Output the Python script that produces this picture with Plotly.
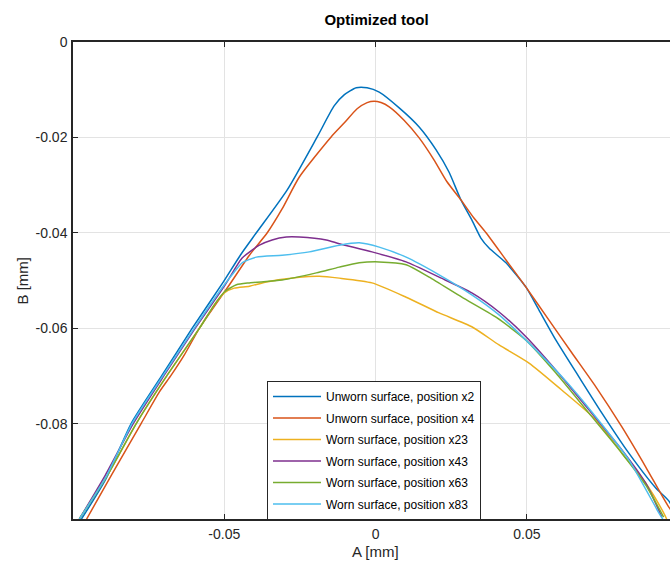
import plotly.graph_objects as go

# ---- data (A [mm], B [mm]) ----
series_names = [
    "Unworn surface, position x2",
    "Unworn surface, position x4",
    "Worn surface, position x23",
    "Worn surface, position x43",
    "Worn surface, position x63",
    "Worn surface, position x83",
]
colors = ["#0072BD", "#D95319", "#EDB120", "#7E2F8E", "#77AC30", "#4DBEEE"]

x2_a = [-0.0972, -0.0893, -0.0807, -0.0705, -0.0606, -0.0503, -0.0447, -0.0394, -0.0292, -0.0193,
        -0.0137, -0.0104, -0.0064, -0.0028, 0.0012, 0.0078, 0.0144, 0.0200, 0.0243, 0.0282,
        0.0318, 0.0348, 0.0375, 0.0431, 0.0497, 0.0540, 0.0596, 0.0672, 0.0748, 0.0837,
        0.0926, 0.0969, 0.1000]
x2_b = [-0.1000, -0.0918, -0.0799, -0.0698, -0.0600, -0.0503, -0.0447, -0.0400, -0.0310, -0.0199,
        -0.0134, -0.0111, -0.0096, -0.0096, -0.0105, -0.0138, -0.0178, -0.0226, -0.0273, -0.0331,
        -0.0373, -0.0411, -0.0432, -0.0463, -0.0514, -0.0562, -0.0625, -0.0702, -0.0778, -0.0862,
        -0.0935, -0.0962, -0.1000]

x4_a = [-0.0955, -0.0873, -0.0774, -0.0715, -0.0675, -0.0632, -0.0582, -0.0483, -0.0417, -0.0358,
        -0.0309, -0.0252, -0.0147, -0.0104, -0.0061, -0.0028, -0.0005, 0.0018, 0.0045,
        0.0094, 0.0144, 0.0193, 0.0236, 0.0282, 0.0325, 0.0365, 0.0431, 0.0497, 0.0573,
        0.0649, 0.0728, 0.0814, 0.0893, 0.0969, 0.1000]
x4_b = [-0.1000, -0.0908, -0.0799, -0.0734, -0.0698, -0.0656, -0.0600, -0.0509, -0.0447, -0.0400,
        -0.0350, -0.0283, -0.0199, -0.0170, -0.0140, -0.0127, -0.0124, -0.0127, -0.0136,
        -0.0164, -0.0201, -0.0247, -0.0293, -0.0331, -0.0369, -0.0400, -0.0457, -0.0514, -0.0583,
        -0.0652, -0.0723, -0.0807, -0.0891, -0.0975, -0.1000]

x23_a = [-0.0979, -0.0886, -0.0790, -0.0688, -0.0582, -0.0533, -0.0500, -0.0467, -0.0417, -0.0361,
         -0.0252, -0.0186, -0.0120, -0.0012, 0.0101, 0.0210, 0.0318, 0.0408, 0.0507, 0.0616,
         0.0728, 0.0814, 0.0893, 0.0952, 0.0962]
x23_b = [-0.1000, -0.0908, -0.0799, -0.0698, -0.0600, -0.0551, -0.0526, -0.0516, -0.0512, -0.0503,
         -0.0493, -0.0491, -0.0495, -0.0505, -0.0535, -0.0568, -0.0597, -0.0635, -0.0673, -0.0730,
         -0.0792, -0.0862, -0.0925, -0.0987, -0.1000]

x43_a = [-0.0979, -0.0893, -0.0800, -0.0698, -0.0596, -0.0497, -0.0441, -0.0384, -0.0342, -0.0295,
         -0.0252, -0.0163, -0.0120, -0.0012, 0.0101, 0.0210, 0.0318, 0.0408, 0.0497, 0.0596,
         0.0705, 0.0814, 0.0893, 0.0946]
x43_b = [-0.1000, -0.0908, -0.0799, -0.0698, -0.0600, -0.0509, -0.0453, -0.0426, -0.0415, -0.0409,
         -0.0409, -0.0415, -0.0423, -0.0440, -0.0461, -0.0493, -0.0526, -0.0566, -0.0618, -0.0688,
         -0.0771, -0.0855, -0.0925, -0.0996]

x63_a = [-0.0979, -0.0886, -0.0790, -0.0688, -0.0582, -0.0533, -0.0500, -0.0460, -0.0417, -0.0309,
         -0.0196, -0.0120, -0.0054, 0.0012, 0.0101, 0.0177, 0.0285, 0.0398, 0.0497, 0.0596,
         0.0705, 0.0814, 0.0893, 0.0952]
x63_b = [-0.1000, -0.0908, -0.0799, -0.0698, -0.0600, -0.0551, -0.0524, -0.0509, -0.0505, -0.0499,
         -0.0484, -0.0472, -0.0463, -0.0461, -0.0467, -0.0493, -0.0535, -0.0577, -0.0625, -0.0694,
         -0.0778, -0.0862, -0.0929, -0.0996]

x83_a = [-0.0979, -0.0893, -0.0804, -0.0701, -0.0599, -0.0500, -0.0467, -0.0441, -0.0394, -0.0309,
         -0.0219, -0.0120, -0.0054, 0.0012, 0.0101, 0.0210, 0.0318, 0.0408, 0.0497, 0.0616,
         0.0728, 0.0837, 0.0936, 0.0949]
x83_b = [-0.1000, -0.0914, -0.0799, -0.0698, -0.0600, -0.0509, -0.0482, -0.0463, -0.0451, -0.0447,
         -0.0440, -0.0426, -0.0421, -0.0430, -0.0451, -0.0488, -0.0530, -0.0572, -0.0625, -0.0702,
         -0.0786, -0.0876, -0.0987, -0.1000]

x_tickvals = [-0.05, 0, 0.05]
x_ticktext = ["-0.05", "0", "0.05"]
y_tickvals = [-0.08, -0.06, -0.04, -0.02, 0]
y_ticktext = ["-0.08", "-0.06", "-0.04", "-0.02", "0"]

title_text = "Optimized tool"
x_label = "A [mm]"
y_label = "B [mm]"

xs = [x2_a, x4_a, x23_a, x43_a, x63_a, x83_a]
ys = [x2_b, x4_b, x23_b, x43_b, x63_b, x83_b]

FONT = "Liberation Sans, Arial, sans-serif"
AX = "#262626"

W, H = 670, 561
ML, MT, MB = 73, 42, 42
PW, PH = W - ML, H - MT - MB

fig = go.Figure()
for i, (name, xa, yb, c) in enumerate(zip(series_names, xs, ys, colors)):
    fig.add_trace(go.Scatter(
        x=xa, y=yb, mode="lines", name=name, legendgroup=f"g{i}",
        line=dict(color=c, width=1.5, shape="spline", smoothing=0.6),
    ))

fig.update_layout(
    width=W, height=H,
    margin=dict(l=ML, r=0, t=MT, b=MB, pad=0),
    paper_bgcolor="white", plot_bgcolor="white",
    hovermode=False,
    font=dict(family=FONT, size=14, color=AX),
    title=dict(text=f"<b>{title_text}</b>", x=303.5 / PW, xref="paper", xanchor="center",
               y=1 - 20 / H, yref="container", yanchor="middle",
               font=dict(family=FONT, size=15, color="#000")),
    showlegend=True,
    legend=dict(x=194 / PW, y=138 / PH, xref="paper", yref="paper", xanchor="left", yanchor="top",
                bgcolor="white", bordercolor=AX, borderwidth=1,
                font=dict(family=FONT, size=12, color="#000"),
                tracegroupgap=2.5, itemwidth=48),
)
fig.update_xaxes(
    range=[-0.1, 0.0973], tickvals=x_tickvals, ticktext=x_ticktext,
    showgrid=True, gridcolor="#e3e3e3", gridwidth=1, zeroline=False,
    showline=True, linecolor=AX, linewidth=1.5, mirror="ticks",
    ticks="inside", ticklen=5, tickcolor=AX, tickwidth=1,
    tickfont=dict(family=FONT, size=14, color=AX), ticklabelstandoff=1,
)
fig.update_yaxes(
    range=[-0.1, 0], tickvals=y_tickvals, ticktext=y_ticktext,
    showgrid=True, gridcolor="#e3e3e3", gridwidth=1, zeroline=False,
    showline=True, linecolor=AX, linewidth=1.5, mirror=False,
    ticks="inside", ticklen=5, tickcolor=AX, tickwidth=1,
    tickfont=dict(family=FONT, size=14, color=AX), ticklabelstandoff=1,
)
fig.add_annotation(text=x_label, xref="x", yref="paper", x=0, y=-32 / PH,
                   showarrow=False, xanchor="center", yanchor="middle",
                   font=dict(family=FONT, size=15, color=AX))
fig.add_annotation(text=y_label, xref="paper", yref="paper", x=-51 / PW, y=0.5,
                   showarrow=False, xanchor="center", yanchor="middle", textangle=-90,
                   font=dict(family=FONT, size=15, color=AX))

# remove the browser's default 8 px page margin so the figure fills the window exactly
page_fix = "document.body.style.margin='0';document.documentElement.style.overflow='hidden';"
fig.write_html("out.html", post_script=page_fix, config={"displayModeBar": False})
